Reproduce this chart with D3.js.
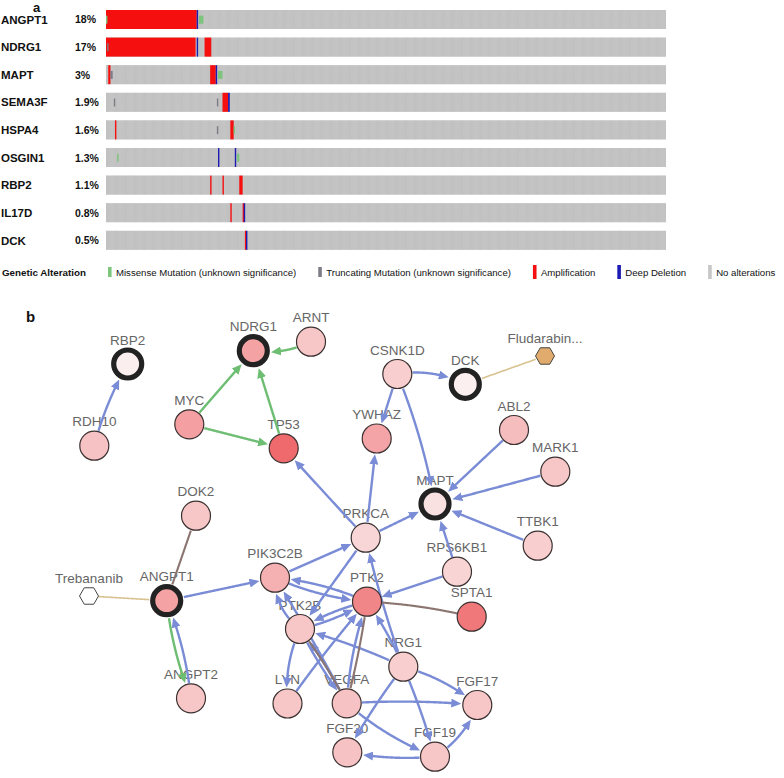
<!DOCTYPE html>
<html><head><meta charset="utf-8">
<script src="https://cdn.jsdelivr.net/npm/d3@7"></script>
<style>
body{margin:0;background:#fff}
svg{display:block}
text{font-family:"Liberation Sans",Arial,Helvetica,sans-serif}
</style>
</head><body>
<svg id="chart" width="784" height="778"></svg>
<script>
// ---------------- Panel a data (oncoprint) ----------------
const genes = ["ANGPT1","NDRG1","MAPT","SEMA3F","HSPA4","OSGIN1","RBP2","IL17D","DCK"];
const pctLabels = ["18%","17%","3%","1.9%","1.6%","1.3%","1.1%","0.8%","0.5%"];
const sampleCount = 500;
// [gene, first sample index, number of samples]
const amplification = [
  ["ANGPT1",0,81],
  ["NDRG1",0,80],["NDRG1",88,6],
  ["MAPT",2,2],["MAPT",93,5],
  ["SEMA3F",104,5],
  ["HSPA4",8,1],["HSPA4",111,3],
  ["RBP2",93,1],["RBP2",104,1],["RBP2",119,3],
  ["IL17D",111,1],["IL17D",122,1],
  ["DCK",124,1]
];
const deepDeletion = [
  ["ANGPT1",81,1],["NDRG1",81,1],["MAPT",98,1],["SEMA3F",109,1.5],
  ["OSGIN1",100,1],["OSGIN1",115,1],["IL17D",123,1],["DCK",125,1]
];
const missense = [
  ["ANGPT1",0,1],["ANGPT1",83,4],["MAPT",100,4],["HSPA4",114,1],
  ["OSGIN1",10,1],["OSGIN1",117,2]
];
const truncating = [
  ["NDRG1",1,1],["MAPT",4,2],["SEMA3F",7,1],["SEMA3F",99,1],["HSPA4",99,1]
];
const legendTitle = "Genetic Alteration";
const legendTypes = ["missense","truncating","amp","del","none"];
const legendLabels = ["Missense Mutation (unknown significance)","Truncating Mutation (unknown significance)","Amplification","Deep Deletion","No alterations"];

// ---------------- Panel b data (network) ----------------
const netNodeIds = ["RBP2","RDH10","NDRG1","ARNT","MYC","TP53","YWHAZ","CSNK1D","DCK","Fludarabine","ABL2","MARK1","MAPT","TTBK1","PRKCA","RPS6KB1","PTK2","SPTA1","PIK3C2B","PTK2B","NRG1","LYN","VEGFA","FGF17","FGF20","FGF19","DOK2","ANGPT1","Trebananib","ANGPT2"];
const netNodeLabels = ["RBP2","RDH10","NDRG1","ARNT","MYC","TP53","YWHAZ","CSNK1D","DCK","Fludarabin...","ABL2","MARK1","MAPT","TTBK1","PRKCA","RPS6KB1","PTK2","SPTA1","PIK3C2B","PTK2B","NRG1","LYN","VEGFA","FGF17","FGF20","FGF19","DOK2","ANGPT1","Trebananib","ANGPT2"];
const netNodeKinds = ["query","gene","query","gene","gene","gene","gene","gene","query","drug","gene","gene","query","gene","gene","gene","gene","gene","gene","gene","gene","gene","gene","gene","gene","gene","gene","query","drugNoTarget","gene"];
// relative alteration frequency (colour intensity)
const netNodeFreq = [0.05,0.37,0.6,0.33,0.62,1.0,0.58,0.28,0.04,0,0.4,0.33,0.15,0.28,0.22,0.24,0.8,0.9,0.5,0.33,0.28,0.33,0.37,0.33,0.37,0.33,0.33,0.6,0,0.33];
// layout coordinates (layout space)
const netLayoutX = [127.7,94.3,253.3,311,189.3,283.7,376.7,397.3,465.3,545,514,555.3,435,537.7,365.7,457,367,471.7,275,300,403.3,287.5,346.7,477.3,347.3,435,196,166.7,89,191];
const netLayoutY = [64,145.7,50.7,41.7,124.3,148.3,138.5,74,84.3,56,130,171.7,204,245.7,237.7,271.7,301.7,316.7,277.7,329,366.7,403.5,403.3,405,452.3,456.7,215.7,300.7,296,398.3];
// [source, target, interaction]
const netEdges = [
  ["MYC","NDRG1","expr"],["TP53","NDRG1","expr"],["ARNT","NDRG1","expr"],["MYC","TP53","expr"],["ANGPT1","ANGPT2","expr"],
  ["RDH10","RBP2","state"],["CSNK1D","DCK","state"],["CSNK1D","YWHAZ","state"],["CSNK1D","MAPT","state"],
  ["PRKCA","YWHAZ","state"],["PRKCA","TP53","state"],["PRKCA","MAPT","state"],["ABL2","MAPT","state"],
  ["MARK1","MAPT","state"],["TTBK1","MAPT","state"],["RPS6KB1","MAPT","state"],["RPS6KB1","PTK2","state"],
  ["ANGPT1","PIK3C2B","state"],["ANGPT2","ANGPT1","state"],["PIK3C2B","PRKCA","state"],["PIK3C2B","PTK2","state"],
  ["PTK2","PIK3C2B","state"],["PTK2B","PIK3C2B","state"],["VEGFA","PIK3C2B","state"],["PRKCA","PTK2B","state"],
  ["PTK2","PTK2B","state"],["PTK2B","PTK2","state"],["PTK2B","LYN","state"],["LYN","PTK2","state"],
  ["PTK2B","VEGFA","state"],["VEGFA","PTK2B","state"],["VEGFA","PTK2","state"],["NRG1","PTK2B","state"],
  ["NRG1","PTK2","state"],["NRG1","PRKCA","state"],["NRG1","FGF17","state"],["NRG1","FGF19","state"],
  ["NRG1","FGF20","state"],["VEGFA","FGF17","state"],["VEGFA","FGF19","state"],["FGF19","FGF20","state"],
  ["FGF19","FGF17","state"],
  ["DOK2","ANGPT1","complex"],["PTK2","SPTA1","complex"],["PTK2","VEGFA","complex"],["PTK2B","VEGFA","complex"],
  ["Trebananib","ANGPT1","drug"],["Fludarabine","DCK","drug"]
];
// edge curvature (layout), keyed "source>target>interaction"
const edgeBend = {
  "ARNT>NDRG1>expr":-9,"ANGPT1>ANGPT2>expr":7,
  "RDH10>RBP2>state":-6,"CSNK1D>DCK>state":-11,"CSNK1D>MAPT>state":-7,
  "ANGPT2>ANGPT1>state":7,"PIK3C2B>PTK2>state":8,"PTK2>PIK3C2B>state":8,
  "PTK2>PTK2B>state":6,"PTK2B>PTK2>state":6,"PTK2B>VEGFA>state":4,"VEGFA>PTK2B>state":4,
  "PTK2B>PIK3C2B>state":-14,"PTK2B>LYN>state":10,"LYN>PTK2>state":-3,"VEGFA>PTK2>state":-7,
  "NRG1>FGF17>state":-9,"NRG1>FGF19>state":-3,"NRG1>FGF20>state":4,
  "VEGFA>FGF17>state":-5,"VEGFA>FGF19>state":9,"FGF19>FGF20>state":-6,"FGF19>FGF17>state":11,
  "NRG1>PTK2>state":4,"NRG1>PRKCA>state":-4,"NRG1>PTK2B>state":5,"VEGFA>PIK3C2B>state":3,
  "PTK2>SPTA1>complex":-5,"PTK2>VEGFA>complex":-3,"PTK2B>VEGFA>complex":-4
};

// ---------------- drawing ----------------
const svg = d3.select("#chart");

// ===== Panel a =====
const x = d3.scaleLinear().domain([0, sampleCount]).range([106, 666]);
const y = d3.scaleBand().domain(genes).range([10, 249.8]).paddingInner(0.3116).paddingOuter(0);
const bw = y.bandwidth();
const sw = x(1) - x(0);
const altColor = {amp:"#f50f0f", del:"#1c1cb4", missense:"#7cc57c", truncating:"#7d7d86", none:"#c4c4c4"};

svg.append("text").attr("x", 33).attr("y", 12).attr("font-size", 13).attr("font-weight", "bold").attr("fill","#111").text("a");

const gA = svg.append("g");
gA.selectAll("rect.bg").data(genes).join("rect")
  .attr("x", x(0)).attr("y", d => y(d)).attr("width", x(sampleCount) - x(0)).attr("height", bw)
  .attr("fill", "#cbcbcb");
const cells = [];
genes.forEach(g => { for (let i = 0; i < sampleCount; i++) cells.push([g, i]); });
gA.selectAll("rect.cell").data(cells).join("rect")
  .attr("x", d => x(d[1])).attr("y", d => y(d[0])).attr("width", sw * 0.72).attr("height", bw)
  .attr("fill", "#bfbfbf");

function drawFull(arr, color) {
  gA.append("g").selectAll("rect").data(arr).join("rect")
    .attr("x", d => x(d[1])).attr("y", d => y(d[0]))
    .attr("width", d => Math.max(1.4, x(d[1] + d[2]) - x(d[1]))).attr("height", bw)
    .attr("fill", color);
}
function drawMut(arr, color) {
  gA.append("g").selectAll("rect").data(arr).join("rect")
    .attr("x", d => x(d[1])).attr("y", d => y(d[0]) + bw * 0.3)
    .attr("width", d => Math.max(1.4, x(d[1] + d[2]) - x(d[1]))).attr("height", bw * 0.42)
    .attr("fill", color);
}
drawFull(amplification, altColor.amp);
drawFull(deepDeletion, altColor.del);
drawMut(missense, altColor.missense);
drawMut(truncating, altColor.truncating);

gA.selectAll("text.gene").data(genes).join("text")
  .attr("x", 1).attr("y", d => y(d) + bw / 2 + 4.2)
  .attr("font-size", 11.5).attr("font-weight", "bold").attr("fill", "#111").text(d => d);
gA.selectAll("text.pct").data(pctLabels).join("text")
  .attr("x", 75).attr("y", (d, i) => y(genes[i]) + bw / 2 + 4)
  .attr("font-size", 10.5).attr("font-weight", "bold").attr("fill", "#111").text(d => d);

// legend
const legY = 272;
svg.append("text").attr("x", 2).attr("y", legY + 3.5).attr("font-size", 9.8).attr("font-weight", "bold")
  .attr("fill", "#111").text(legendTitle);
let lx = 108;
legendTypes.forEach((t, i) => {
  const isMut = (t === "missense" || t === "truncating");
  const h = isMut ? 10 : 14;
  svg.append("rect").attr("x", lx).attr("y", legY - h / 2).attr("width", 3.6).attr("height", h)
    .attr("fill", t === "none" ? "#c6c6c6" : altColor[t]);
  const tx = svg.append("text").attr("x", lx + 8).attr("y", legY + 3.5).attr("font-size", 9.6)
    .attr("fill", "#111").text(legendLabels[i]);
  lx = lx + 8 + tx.node().getComputedTextLength() + 22;
});

// ===== Panel b =====
svg.append("text").attr("x", 26).attr("y", 322).attr("font-size", 15).attr("font-weight", "bold").attr("fill","#111").text("b");

const nx = d3.scaleLinear().domain([0, 784]).range([0, 784]);
const ny = d3.scaleLinear().domain([0, 478]).range([300, 778]);
const heat = d3.scaleLinear().domain([0, 1]).range(["#fbf5f5", "#ef6a6d"]);

const nodes = netNodeIds.map((id, i) => ({
  id, label: netNodeLabels[i], kind: netNodeKinds[i], freq: netNodeFreq[i],
  x: nx(netLayoutX[i]), y: ny(netLayoutY[i])
}));
const byId = Object.fromEntries(nodes.map(n => [n.id, n]));
function rad(n) {
  if (n.kind === "query") return 17;
  if (n.kind === "drug" || n.kind === "drugNoTarget") return 9.5;
  return 15;
}
const edgeStyle = {
  state: {color: "#7a8cd6", width: 2.4, arrow: true},
  expr: {color: "#6dbd72", width: 2.4, arrow: true},
  complex: {color: "#8b7570", width: 2.1, arrow: false},
  drug: {color: "#d8c28f", width: 1.6, arrow: false}
};

const defs = svg.append("defs");
["state", "expr"].forEach(k => {
  defs.append("marker").attr("id", "arr-" + k).attr("viewBox", "0 0 10 9")
    .attr("refX", 1).attr("refY", 4.5).attr("markerWidth", 10).attr("markerHeight", 9)
    .attr("markerUnits", "userSpaceOnUse").attr("orient", "auto")
    .append("path").attr("d", "M0,0 L10,4.5 L0,9 Z").attr("fill", edgeStyle[k].color);
});

const gLabels = svg.append("g");
const gEdges = svg.append("g");
const gNodes = svg.append("g");

gLabels.selectAll("text").data(nodes).join("text")
  .attr("x", d => d.x).attr("y", d => d.y - (d.kind.startsWith("drug") ? 13 : 19.5))
  .attr("text-anchor", "middle").attr("font-size", 13.5).attr("fill", "#666")
  .text(d => d.label);

function edgePath(s, t, bend, rs, rt) {
  const dx = t.x - s.x, dy = t.y - s.y, L = Math.hypot(dx, dy);
  const px = -dy / L, py = dx / L;
  const cx = (s.x + t.x) / 2 + px * bend, cy = (s.y + t.y) / 2 + py * bend;
  const pts = [];
  for (let i = 0; i <= 120; i++) {
    const u = i / 120;
    const qx = (1 - u) * (1 - u) * s.x + 2 * (1 - u) * u * cx + u * u * t.x;
    const qy = (1 - u) * (1 - u) * s.y + 2 * (1 - u) * u * cy + u * u * t.y;
    if (Math.hypot(qx - s.x, qy - s.y) >= rs && Math.hypot(qx - t.x, qy - t.y) >= rt) pts.push([qx, qy]);
  }
  return d3.line()(pts);
}

netEdges.forEach(([s, t, type]) => {
  const st = edgeStyle[type];
  const S = byId[s], T = byId[t];
  const bend = edgeBend[s + ">" + t + ">" + type] || 0;
  const rt = rad(T) + (st.arrow ? 9.5 : 0);
  gEdges.append("path")
    .attr("d", edgePath(S, T, bend, rad(S), rt))
    .attr("fill", "none").attr("stroke", st.color).attr("stroke-width", st.width)
    .attr("marker-end", st.arrow ? "url(#arr-" + type + ")" : null);
});

function hexPath(r) {
  const p = d3.range(6).map(k => [r * Math.cos(k * Math.PI / 3), r * Math.sin(k * Math.PI / 3)]);
  return "M" + p.map(q => q.join(",")).join("L") + "Z";
}

nodes.forEach(n => {
  if (n.kind === "drug" || n.kind === "drugNoTarget") {
    gNodes.append("path").attr("transform", `translate(${n.x},${n.y})`).attr("d", hexPath(9.5))
      .attr("fill", n.kind === "drug" ? "#e0ab6c" : "#ffffff").attr("stroke", "#444").attr("stroke-width", 1);
  } else if (n.kind === "query") {
    gNodes.append("circle").attr("cx", n.x).attr("cy", n.y).attr("r", 14)
      .attr("fill", heat(n.freq)).attr("stroke", "#222").attr("stroke-width", 5.2);
  } else {
    gNodes.append("circle").attr("cx", n.x).attr("cy", n.y).attr("r", 14.5)
      .attr("fill", heat(n.freq)).attr("stroke", "#3a3030").attr("stroke-width", 1.2);
  }
});
</script>
</body></html>
